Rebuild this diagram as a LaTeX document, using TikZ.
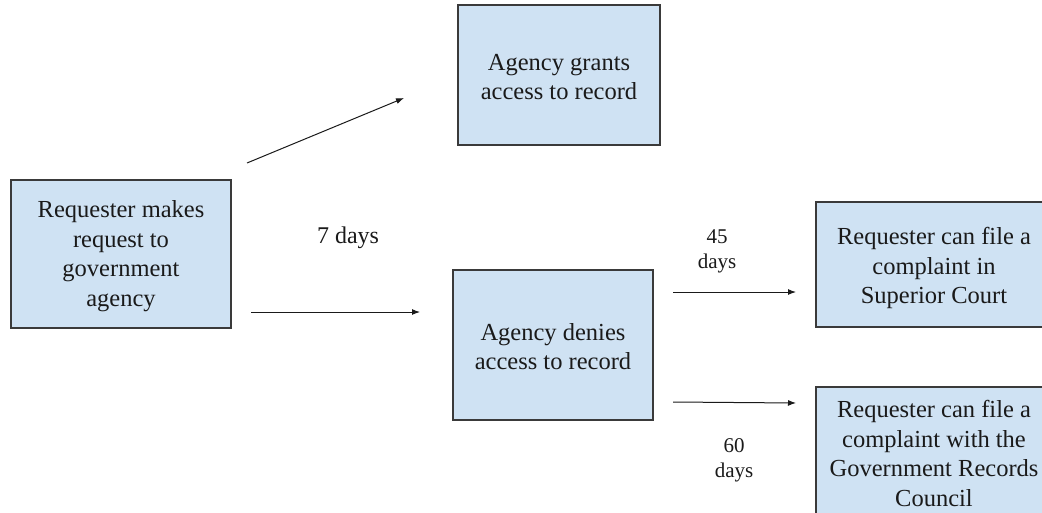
\documentclass[tikz,border=0pt]{standalone}
\usepackage{fontspec}
\setmainfont{Liberation Serif}
\usetikzlibrary{arrows.meta}
\definecolor{boxfill}{HTML}{CFE2F3}
\definecolor{boxline}{HTML}{3A3A3A}
\definecolor{txt}{HTML}{1A1A1A}
\begin{document}
\begin{tikzpicture}[x=1pt,y=-1pt,
  box/.style={draw=boxline, fill=boxfill, line width=1.2pt, align=center,
    font=\rmfamily\fontsize{24.5}{29.5}\selectfont, text=txt, inner sep=0pt},
  lbl/.style={font=\rmfamily\fontsize{21}{25}\selectfont, align=center, text=txt, inner sep=0pt},
  conn/.style={-{Latex[length=8pt,width=6pt]}, line width=1pt, draw=txt}]
\useasboundingbox (0,0) rectangle (1042,512);
\clip (0,0) rectangle (1042,512);
\fill[white] (0,0) rectangle (1042,512);
\node[box, minimum width=220pt, minimum height=148pt, text height=110pt, text depth=5.4pt] (req) at (121,254)
  {Requester makes\\request to\\government\\agency};
\node[box, minimum width=202pt, minimum height=140pt, text height=49pt, text depth=0pt] (grant) at (559,75)
  {Agency grants\\access to record};
\node[box, minimum width=200pt, minimum height=150pt, text height=49pt, text depth=0pt] (deny) at (553,345)
  {Agency denies\\access to record};
\node[box, minimum width=236pt, minimum height=125pt, text height=84pt, text depth=5.4pt] (court) at (934,264.5)
  {Requester can file a\\complaint in\\Superior Court};
\node[box, minimum width=236pt, minimum height=133pt, text depth=0pt] (grc) at (934,453.5)
  {Requester can file a\\complaint with the\\Government Records\\Council};
% connector end points
\coordinate (a1s) at (247,163);
\coordinate (a1e) at (404,98);
\coordinate (a2s) at (251,312);
\coordinate (a2e) at (420,312);
\coordinate (a3s) at (673,292);
\coordinate (a3e) at (796,292);
\coordinate (a4s) at (673,402);
\coordinate (a4e) at (796,403);
\draw[conn] (a1s) -- (a1e);
\draw[conn] (a2s) -- (a2e);
\draw[conn] (a3s) -- (a3e);
\draw[conn] (a4s) -- (a4e);
% labels
\node[lbl, font=\rmfamily\fontsize{24}{28}\selectfont] (l7) at (348,238) {7 days};
\node[lbl] (l45) at (717,251) {45\\days};
\node[lbl] (l60) at (734,460) {60\\days};
\end{tikzpicture}
\end{document}
